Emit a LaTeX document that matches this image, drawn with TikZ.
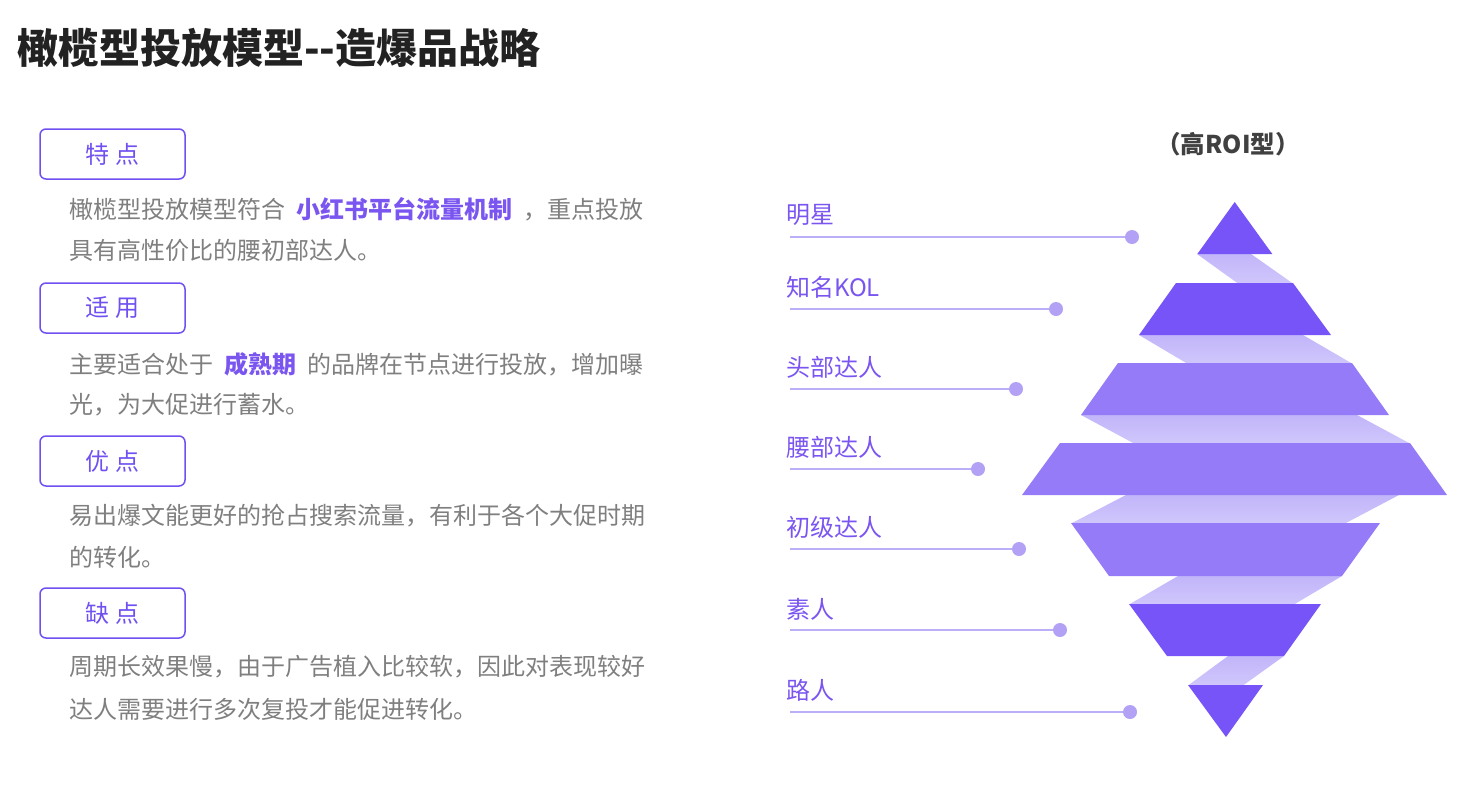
\documentclass[tikz,border=0pt]{standalone}
\usepackage{fontspec}
\setmainfont{Noto Sans CJK SC}
\definecolor{pdark}{HTML}{7654F7}
\definecolor{pmid}{HTML}{957BF7}
\definecolor{prtop}{HTML}{C2B5FA}
\definecolor{prbot}{HTML}{D0C7FB}
\definecolor{plabel}{HTML}{7A55F0}
\definecolor{pdot}{HTML}{B3A1F5}
\definecolor{pline}{HTML}{BDAEF8}
\definecolor{ptag}{HTML}{7050F0}
\definecolor{pgray}{HTML}{7F7F7F}
\definecolor{ptitle}{HTML}{222222}
\definecolor{proi}{HTML}{404040}
\begin{document}
\begin{tikzpicture}[x=1pt,y=-1pt,
  lbl/.style={anchor=west, inner sep=0pt, text=plabel, font=\fontsize{24}{24}\selectfont},
  dotnode/.style={circle, fill=pdot, inner sep=0pt, minimum size=14pt},
  guide/.style={draw=pline, line width=2pt},
  tag/.style={draw=ptag, line width=1.5pt, rounded corners=6pt, minimum width=145pt, minimum height=50pt, text=ptag, font=\fontsize{24}{24}\selectfont, inner sep=0pt},
  body/.style={anchor=west, inner sep=0pt, text=pgray, font=\fontsize{24}{24}\selectfont},
  ribbon/.style={top color=prtop, bottom color=prbot, draw=none},
  darkpart/.style={fill=pdark, draw=none},
  midpart/.style={fill=pmid, draw=none}]
\useasboundingbox (0,0) rectangle (1463,785);

% title
\node[anchor=west, inner sep=0pt, text=ptitle, font=\fontsize{41}{41}\selectfont\bfseries] (title) at (17,48) {橄榄型投放模型{-}{-}造爆品战略};

% tags
\node[tag] (tag1) at (112.5,154) {特 点};
\node[tag] (tag2) at (112.5,308) {适 用};
\node[tag] (tag3) at (112.5,461) {优 点};
\node[tag] (tag4) at (112.5,613) {缺 点};

% body text
\newcommand{\hlt}[1]{\textcolor{plabel}{\bfseries #1}}
\node[body] (b1) at (69,209) {橄榄型投放模型符合\hspace{11pt}\hlt{小红书平台流量机制}\hspace{11pt}，重点投放};
\node[body] (b2) at (69,250) {具有高性价比的腰初部达人。};
\node[body] (b3) at (69,364) {主要适合处于\hspace{11pt}\hlt{成熟期}\hspace{11pt}的品牌在节点进行投放，增加曝};
\node[body] (b4) at (69,405) {光，为大促进行蓄水。};
\node[body] (b5) at (69,516) {易出爆文能更好的抢占搜索流量，有利于各个大促时期};
\node[body] (b6) at (69,557) {的转化。};
\node[body] (b7) at (69,667) {周期长效果慢，由于广告植入比较软，因此对表现较好};
\node[body] (b8) at (69,709) {达人需要进行多次复投才能促进转化。};

% ROI
\node[inner sep=0pt, text=proi, font=\fontsize{24.5}{24.5}\selectfont\bfseries] (roi) at (1228,144) {（高ROI型）};

% labels
\node[lbl] (n1) at (786,215) {明星};
\node[lbl] (n2) at (786,287) {知名KOL};
\node[lbl] (n3) at (786,367) {头部达人};
\node[lbl] (n4) at (786,447) {腰部达人};
\node[lbl] (n5) at (786,527) {初级达人};
\node[lbl] (n6) at (786,609) {素人};
\node[lbl] (n7) at (786,690) {路人};

\coordinate (s1) at (790,237);
\coordinate (s2) at (790,309);
\coordinate (s3) at (790,389);
\coordinate (s4) at (790,469);
\coordinate (s5) at (790,549);
\coordinate (s6) at (790,630);
\coordinate (s7) at (790,712);
\node[dotnode] (d1) at (1132,237) {};
\node[dotnode] (d2) at (1056,309) {};
\node[dotnode] (d3) at (1016,389) {};
\node[dotnode] (d4) at (978,469) {};
\node[dotnode] (d5) at (1019,549) {};
\node[dotnode] (d6) at (1060,630) {};
\node[dotnode] (d7) at (1130,712) {};
\draw[guide] (s1) -- (d1);
\draw[guide] (s2) -- (d2);
\draw[guide] (s3) -- (d3);
\draw[guide] (s4) -- (d4);
\draw[guide] (s5) -- (d5);
\draw[guide] (s6) -- (d6);
\draw[guide] (s7) -- (d7);

% ribbons
\path[ribbon] (1197,254) -- (1251,254) -- (1293,283.5) -- (1238,283.5) -- cycle;
\path[ribbon] (1139,335) -- (1303,335) -- (1352,363.5) -- (1187,363.5) -- cycle;
\path[ribbon] (1081,415) -- (1357,415) -- (1410,443.5) -- (1134,443.5) -- cycle;
\path[ribbon] (1126,495) -- (1399,495) -- (1345,523.5) -- (1071,523.5) -- cycle;
\path[ribbon] (1178,576) -- (1342,576) -- (1294,604.5) -- (1129,604.5) -- cycle;
\path[ribbon] (1228,656) -- (1284,656) -- (1243,685.5) -- (1188,685.5) -- cycle;

% layers
\path[darkpart] (1234.7,202) -- (1272.3,254) -- (1197.3,254) -- cycle;
\path[darkpart] (1176,283) -- (1293,283) -- (1331,335) -- (1139,335) -- cycle;
\path[midpart] (1118,363) -- (1352,363) -- (1389,415) -- (1081,415) -- cycle;
\path[midpart] (1060,443) -- (1410,443) -- (1447,495) -- (1022,495) -- cycle;
\path[midpart] (1071,523) -- (1380,523) -- (1342,576) -- (1109,576) -- cycle;
\path[darkpart] (1129,604) -- (1321,604) -- (1284,656) -- (1167,656) -- cycle;
\path[darkpart] (1188,685) -- (1263,685) -- (1226,737) -- cycle;
\end{tikzpicture}
\end{document}
